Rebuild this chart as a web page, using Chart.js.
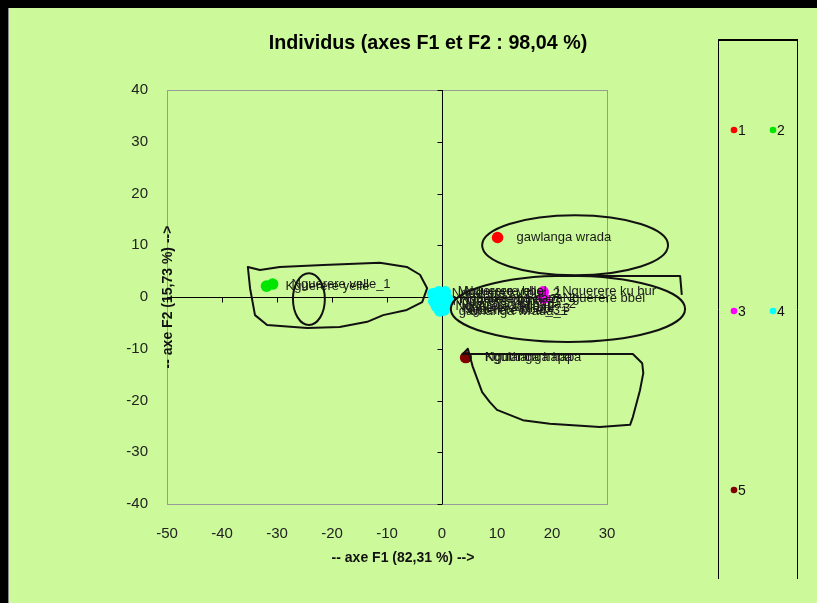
<!DOCTYPE html>
<html><head><meta charset="utf-8">
<script src="https://cdn.jsdelivr.net/npm/chart.js@4/dist/chart.umd.min.js"></script>
<style>html,body{margin:0;padding:0;background:#CCF99A;overflow:hidden}canvas{display:block}</style>
</head><body><canvas id="c" width="817" height="603"></canvas>
<script>
// ---- data ----
const titleText = 'Individus (axes F1 et F2 : 98,04 %)';
const xTitle = '-- axe F1 (82,31 %) -->';
const yTitle = '-- axe F2 (15,73 %) -->';
const seriesNames = ['1', '2', '3', '4', '5'];
const xTickValues = [-50, -40, -30, -20, -10, 0, 10, 20, 30];
const yTickValues = [-40, -30, -20, -10, 0, 10, 20, 30, 40];

const s1X = [10.1];
const s1Y = [11.5];
const s1Labels = ['gawlanga wrada'];

const s2X = [-31.9, -30.8];
const s2Y = [2.1, 2.5];
const s2Labels = ['Kguerere yelle', 'Nguerere velle_1'];

const s3X = [18.4, 18.5];
const s3Y = [1.0, -0.2];
const s3Labels = ['Nguerere ku bur', 'Nguerere bbel'];

const s4X = [-1.7, -0.6, 0.6, 1.0, -1.5, -0.2, 0.8, -1.0, 0.1, -0.4, 0.4];
const s4Y = [0.6, 1.0, 1.0, -0.3, -0.8, -0.4, -1.4, -1.8, -2.2, -2.7, -2.5];
const s4Labels = ['Nguerere ku bur_2', 'Mguerere velle', 'Nguerere bbel_1', 'Nguthanga hapa_1',
  'Nguerere ku bur_1', 'Nguerere bbel_2', 'Nguthanga hapa_2', 'Nguerere velle_2',
  'Nguerere ku bur_3', 'gawlanga wrada_1', 'Nguerere bbel_3'];

const s5X = [4.3, 4.4];
const s5Y = [-11.7, -11.6];
const s5Labels = ['Kgulanga hapa', 'Nguthanga hapa'];

// hand-drawn annotations, in data units
const ellipseRed = [24.2, 10.0, 16.9, 5.8];      // cx, cy, rx, ry
const ellipseMagenta = [22.9, -2.3, 21.3, 6.4];
const ellipseSmall = [-24.2, -0.4, 2.9, 5.0];
const magentaCornerX = [21.5, 43.3, 43.6];
const magentaCornerY = [4.06, 4.06, 0.4];
const greenShapeX = [-35.3, -33.1, -29.5, -21.6, -11.3, -6.4, -4.0, -2.7, -3.6, -6.4, -10.7, -13.6, -18.6, -24.5, -31.8, -34.0, -34.9, -35.3];
const greenShapeY = [5.8, 5.2, 5.8, 6.2, 6.6, 5.8, 4.3, 1.7, -1.0, -2.5, -3.5, -4.8, -5.8, -6.0, -5.4, -3.5, 1.7, 5.8];
const darkShapeX = [3.8, 34.7, 36.4, 36.6, 36.0, 34.7, 34.2, 28.7, 19.6, 14.7, 10.0, 8.7, 7.3, 5.6, 4.7];
const darkShapeY = [-11.0, -11.0, -12.8, -14.7, -18.0, -23.2, -24.7, -25.1, -24.5, -23.8, -21.8, -20.3, -18.4, -13.5, -10.0];

// ---- styles ----
const BG = '#CCF99A';
const seriesColors = ['#FF0000', '#00E600', '#FF00FF', '#00FFFF', '#800000'];
const FONT = '"Liberation Sans", Arial, sans-serif';

const groups = [
  [s1X, s1Y, s1Labels], [s2X, s2Y, s2Labels], [s3X, s3Y, s3Labels], [s4X, s4Y, s4Labels], [s5X, s5Y, s5Labels]
];

const datasets = groups.map((g, i) => ({
  label: seriesNames[i],
  data: g[0].map((x, k) => ({x: x, y: g[1][k]})),
  backgroundColor: seriesColors[i],
  borderWidth: 0,
  pointRadius: 5.8,
  pointHoverRadius: 5.8
}));

const deco = {
  id: 'deco',
  beforeDraw(chart) {
    const ctx = chart.ctx;
    ctx.save();
    ctx.fillStyle = BG;
    ctx.fillRect(0, 0, chart.width, chart.height);
    ctx.fillStyle = '#000';
    ctx.fillRect(0, 0, chart.width, 8);
    ctx.fillRect(0, 0, 8, chart.height);
    ctx.fillStyle = '#888';
    ctx.fillRect(8, 8, 1, chart.height - 8);
    ctx.restore();
  },
  beforeDatasetsDraw(chart) {
    const ctx = chart.ctx, a = chart.chartArea;
    const xs = chart.scales.x, ys = chart.scales.y;
    ctx.save();
    ctx.strokeStyle = '#9a9a9a';
    ctx.lineWidth = 1;
    ctx.strokeRect(Math.round(a.left) + 0.5, Math.round(a.top) + 0.5, Math.round(a.right - a.left), Math.round(a.bottom - a.top));
    const x0 = Math.round(xs.getPixelForValue(0)) + 0.5;
    const y0 = Math.round(ys.getPixelForValue(0)) + 0.5;
    ctx.strokeStyle = '#000';
    ctx.beginPath();
    ctx.moveTo(x0, a.top); ctx.lineTo(x0, a.bottom);
    ctx.moveTo(a.left, y0); ctx.lineTo(a.right, y0);
    yTickValues.forEach(v => { const p = Math.round(ys.getPixelForValue(v)) + 0.5; ctx.moveTo(x0 - 5, p); ctx.lineTo(x0, p); });
    xTickValues.forEach(v => { const p = Math.round(xs.getPixelForValue(v)) + 0.5; ctx.moveTo(p, y0); ctx.lineTo(p, y0 + 5); });
    ctx.stroke();
    ctx.restore();
  },
  afterDatasetsDraw(chart) {
    const ctx = chart.ctx, a = chart.chartArea;
    const xs = chart.scales.x, ys = chart.scales.y;
    const X = v => xs.getPixelForValue(v), Y = v => ys.getPixelForValue(v);
    ctx.save();
    // point labels
    ctx.font = '13px ' + FONT;
    ctx.fillStyle = '#1a1a1a';
    ctx.textBaseline = 'middle';
    ctx.textAlign = 'left';
    groups.forEach(g => {
      g[0].forEach((x, k) => ctx.fillText(g[2][k], X(x) + 19, Y(g[1][k])));
    });
    // annotations
    ctx.strokeStyle = '#111';
    ctx.lineWidth = 2;
    ctx.lineJoin = 'round';
    [ellipseRed, ellipseMagenta, ellipseSmall].forEach(e => {
      ctx.beginPath();
      ctx.ellipse(X(e[0]), Y(e[1]), Math.abs(X(e[0] + e[2]) - X(e[0])), Math.abs(Y(e[1] + e[3]) - Y(e[1])), 0, 0, Math.PI * 2);
      ctx.stroke();
    });
    [[magentaCornerX, magentaCornerY, false], [greenShapeX, greenShapeY, true], [darkShapeX, darkShapeY, true]].forEach(s => {
      ctx.beginPath();
      s[0].forEach((x, k) => { if (k === 0) ctx.moveTo(X(x), Y(s[1][k])); else ctx.lineTo(X(x), Y(s[1][k])); });
      if (s[2]) ctx.closePath();
      ctx.stroke();
    });
    // title
    ctx.fillStyle = '#000';
    ctx.textAlign = 'center';
    ctx.font = 'bold 19.7px ' + FONT;
    ctx.fillText(titleText, 428, 44);
    // axis titles
    ctx.font = 'bold 14px ' + FONT;
    ctx.fillStyle = '#111';
    ctx.fillText(xTitle, 403, 558);
    ctx.save();
    ctx.translate(168, (a.top + a.bottom) / 2);
    ctx.rotate(-Math.PI / 2);
    ctx.fillText(yTitle, 0, 0);
    ctx.restore();
    // legend box
    ctx.strokeStyle = '#000';
    ctx.lineWidth = 1;
    ctx.beginPath();
    ctx.moveTo(718.5, 40); ctx.lineTo(718.5, 579);
    ctx.moveTo(797.5, 40); ctx.lineTo(797.5, 579);
    ctx.stroke();
    ctx.lineWidth = 2;
    ctx.beginPath();
    ctx.moveTo(718, 40); ctx.lineTo(798, 40);
    ctx.stroke();
    const legendPos = [[734, 130], [773, 130], [734, 311], [773, 311], [734, 490]];
    ctx.font = '14px ' + FONT;
    ctx.textAlign = 'left';
    seriesNames.forEach((n, i) => {
      const p = legendPos[i];
      ctx.fillStyle = seriesColors[i];
      ctx.beginPath(); ctx.arc(p[0], p[1], 3.3, 0, Math.PI * 2); ctx.fill();
      ctx.fillStyle = '#111';
      ctx.fillText(n, p[0] + 4, p[1] + 1);
    });
    ctx.restore();
  }
};

new Chart(document.getElementById('c'), {
  type: 'scatter',
  data: {datasets: datasets},
  options: {
    responsive: false,
    animation: false,
    events: [],
    layout: {padding: {top: 90, right: 210, left: 0, bottom: 0}},
    plugins: {legend: {display: false}, tooltip: {enabled: false}, title: {display: false}},
    scales: {
      x: {
        type: 'linear', min: -50, max: 30,
        afterBuildTicks: s => { s.ticks = xTickValues.map(v => ({value: v})); },
        afterFit: s => { s.height = 99; },
        grid: {display: false, drawTicks: false},
        border: {display: false},
        ticks: {padding: 21, color: '#222', font: {family: FONT, size: 15}, maxRotation: 0, autoSkip: false}
      },
      y: {
        type: 'linear', min: -40, max: 40,
        afterBuildTicks: s => { s.ticks = yTickValues.map(v => ({value: v})); },
        afterFit: s => { s.width = 167; },
        grid: {display: false, drawTicks: false},
        border: {display: false},
        ticks: {padding: 19, color: '#222', font: {family: FONT, size: 15}, autoSkip: false}
      }
    }
  },
  plugins: [deco]
});
</script>
</body></html>
